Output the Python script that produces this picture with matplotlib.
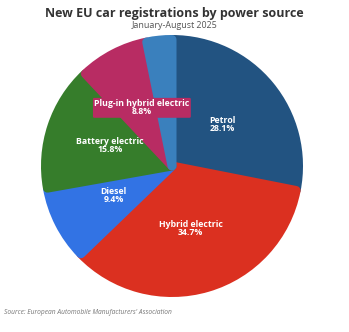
import matplotlib.pyplot as plt
import numpy as np

plt.rcParams['font.family'] = ['Open Sans', 'DejaVu Sans']

# Data
sources = ["Petrol", "Hybrid electric", "Diesel", "Battery electric",
           "Plug-in hybrid electric", "Other"]
shares = [28.1, 34.7, 9.4, 15.8, 8.8, 3.2]
colors = ["#225381", "#db3020", "#3273e4", "#367d2b", "#b82c63", "#3a80bd"]
show_label = [True, True, True, True, True, False]

W, H, DPI = 349, 332, 100
fig = plt.figure(figsize=(W / DPI, H / DPI), dpi=DPI)

# pie centre / radius in pixels
cx, cy, R = 172, 166, 131
ax = fig.add_axes([(cx - R) / W, (H - cy - R) / H, 2 * R / W, 2 * R / H])

d_px = 4.5  # corner rounding
shrink = d_px / R
wedges, _ = ax.pie(shares, colors=colors, startangle=90, counterclock=False,
                   radius=1 - shrink)
lw_pt = 2 * d_px * 72 / DPI
for w, c in zip(wedges, colors):
    w.set_edgecolor(c)
    w.set_linewidth(lw_pt)
    w.set_joinstyle('round')

# labels inside slices
start = 90.0
total = sum(shares)
for name, val, c, show in zip(sources, shares, colors, show_label):
    span = 360 * val / total
    mid = np.deg2rad(start - span / 2)
    start -= span
    if not show:
        continue
    x, y = 0.5 * np.cos(mid), 0.5 * np.sin(mid)
    kw = {}
    if name.startswith("Plug-in"):
        kw["bbox"] = dict(boxstyle="round,pad=0.15", fc=c, ec="none")
    ax.text(x, y, f"{name}\n{val:.1f}%", ha="center", va="center",
            color="white", fontsize=6.3, fontweight="bold",
            linespacing=0.9, **kw)

ax.set_xlim(-1, 1)
ax.set_ylim(-1, 1)
ax.set_aspect('auto')
ax.axis('off')

fig.text(0.5, 1 - 14 / H, "New EU car registrations by power source",
         ha="center", va="center", fontsize=9.0, fontweight="bold", color="#333333")
fig.text(0.5, 1 - 25.5 / H, "January-August 2025",
         ha="center", va="center", fontsize=6.4, color="#555555")
fig.text(4 / W, 1 - 313 / H, "Source: European Automobile Manufacturers' Association",
         ha="left", va="center", fontsize=4.75, style="italic", color="#777777")

fig.savefig("out.png", dpi=DPI)
